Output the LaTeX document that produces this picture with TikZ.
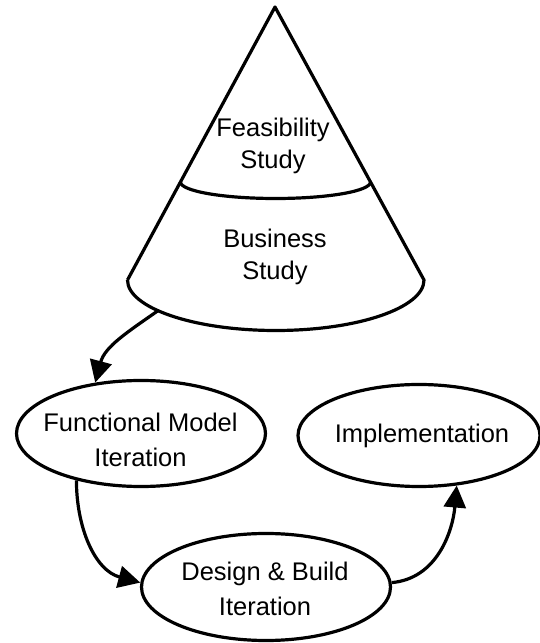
\documentclass[tikz,border=0pt]{standalone}
\usepackage{fontspec}
\setmainfont{Liberation Sans}
\usetikzlibrary{arrows.meta,shapes.geometric}
\begin{document}
\begin{tikzpicture}[x=1pt,y=1pt,
  thick line/.style={line width=3.2pt, line join=round},
  oval/.style={draw, ellipse, line width=3.2pt, inner sep=0pt},
  lbl/.style={align=center, inner sep=0pt, font=\fontsize{25.5}{35}\selectfont},
  conelbl/.style={align=center, inner sep=0pt, font=\fontsize{25.5}{31.5}\selectfont},
  flow/.style={line width=3.2pt, -{Triangle[length=22pt,width=22pt]}}]
\useasboundingbox (0,0) rectangle (539,643);
% cone
\coordinate (apex) at (275,636);
\coordinate (bl) at (127.5,363);
\coordinate (br) at (424,363);
\draw[thick line] (bl) -- (apex) -- (br)
  arc[start angle=0, end angle=-180, x radius=148.25pt, y radius=50.5pt];
\coordinate (ml) at (180.5,461);
\draw[thick line] (ml) arc[start angle=180, end angle=360, x radius=95pt, y radius=16.5pt];
\node[conelbl] (feas) at (273,497) {Feasibility\\Study};
\node[conelbl] (bus) at (275,386) {Business\\Study};
\coordinate (conebottom) at (158,332.3);
% ellipses
\node[oval, minimum width=249pt, minimum height=106pt] (fm) at (141,209.5) {};
\node[lbl] (fmt) at (140.5,203) {Functional Model\\Iteration};
\node[oval, minimum width=242pt, minimum height=102pt] (imp) at (419,207.5) {};
\node[lbl] (impt) at (422,207) {Implementation};
\node[oval, minimum width=249pt, minimum height=107pt] (db) at (266,56) {};
\node[lbl] (dbt) at (265,54) {Design \& Build\\Iteration};
% connectors
\draw[flow] (conebottom) to[out=215, in=75] (fm.132);
\draw[flow] (fm.216) to[out=270, in=165] (db.178);
\draw[flow] (db.2) to[out=5, in=265] (imp.-53);
\end{tikzpicture}
\end{document}
